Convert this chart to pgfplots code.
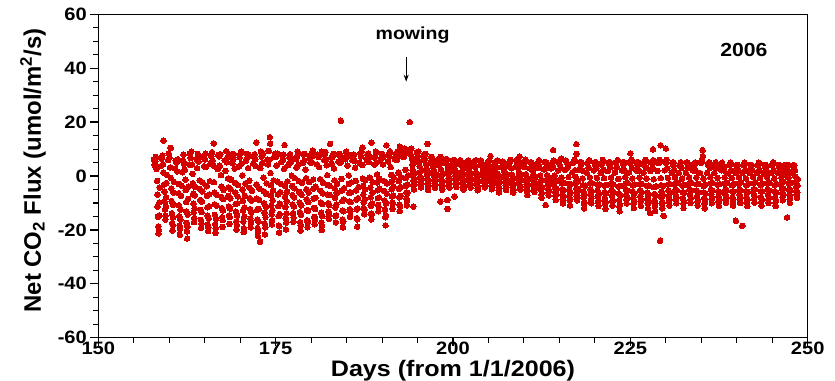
\documentclass[border=0pt]{standalone}
\usepackage{pgfplots}
\pgfplotsset{compat=1.18}
\usetikzlibrary{arrows.meta}
\usepackage{fontspec}
\setmainfont{Liberation Sans}[FakeStretch=1.12]
\newfontfamily\yfont{Liberation Sans}
\definecolor{fluxred}{RGB}{212,0,0}
\begin{document}
\begin{tikzpicture}
\begin{axis}[
  at={(0,0)}, anchor=south west,
  scale only axis, width=709.4bp, height=323.4bp,
  xmin=150, xmax=250, ymin=-60, ymax=60,
  xtick={150,175,200,225,250}, minor x tick num=4,
  ytick={-60,-40,-20,0,20,40,60}, minor y tick num=3,
  tick align=outside, tick pos=left,
  axis line style={line width=1.5bp, black},
  major tick style={line width=1.3bp, black},
  minor tick style={line width=1.1bp, black},
  major tick length=8bp, minor tick length=5bp,
  /pgf/number format/assume math mode=true,
  tick label style={font=\fontsize{18}{18}\selectfont\bfseries},
  xticklabel style={yshift=7bp},
  xlabel={Days (from 1/1/2006)},
  xlabel style={at={(axis description cs:0.5,0)}, anchor=base, yshift=-39bp, font=\fontsize{22.5}{22.5}\selectfont\bfseries},
  ylabel={Net CO\textsubscript{2} Flux (umol/m\textsuperscript{2}/s)},
  ylabel style={at={(axis description cs:-0.0921,0.517)}, anchor=center, font=\fontsize{24}{24}\selectfont\yfont\bfseries},
]
\addplot[only marks, mark=*, mark size=2.8bp, color=fluxred, mark options={fill=fluxred, draw=fluxred, line width=0pt}] coordinates {
(157.84,6.2)(157.92,4.1)
(158.03,5.3)(158.12,7.1)(158.21,2.6)(158.29,-1.8)(158.33,-6.9)(158.37,-11.4)(158.41,-15.2)(158.45,-18.7)(158.49,-21.3)(158.53,-20.1)(158.57,-14.6)(158.61,-9.8)(158.66,-4.3)(158.83,3.7)(158.92,6.4)
(159.03,7.6)(159.12,4.4)(159.18,13.1)(159.21,1.2)(159.29,-3.1)(159.33,-5.8)(159.37,-9.6)(159.41,-12.4)(159.45,-16.2)(159.49,-14.7)(159.53,-11.3)(159.57,-7.9)(159.61,-2.6)(159.66,0.4)(159.83,5.9)(159.92,8.3)
(160.03,6.8)(160.12,3.2)(160.20,10.4)(160.23,-0.7)(160.29,-4.6)(160.33,-9.3)(160.37,-13.8)(160.41,-17.5)(160.45,-20.2)(160.49,-18.1)(160.53,-15.4)(160.57,-10.7)(160.61,-6.1)(160.66,-2.2)(160.83,2.8)(160.92,5.6)
(161.03,4.9)(161.12,1.7)(161.21,6.2)(161.29,-2.9)(161.33,-6.4)(161.37,-10.8)(161.41,-14.9)(161.45,-18.3)(161.49,-21.8)(161.53,-19.6)(161.57,-16.2)(161.61,-12.5)(161.66,-7.4)(161.72,-3.6)(161.83,1.4)(161.92,5.8)
(162.03,7.9)(162.12,4.5)(162.21,2.3)(162.29,-1.4)(162.33,-5.2)(162.37,-9.7)(162.41,-13.1)(162.45,-17.4)(162.49,-20.6)(162.53,-23.2)(162.57,-18.8)(162.61,-14.3)(162.66,-8.5)(162.72,-3.9)(162.83,4.2)(162.92,8.4)
(163.03,6.7)(163.12,9.1)(163.21,4.3)(163.29,0.8)(163.33,-2.7)(163.37,-6.6)(163.41,-10.2)(163.45,-13.5)(163.49,-17.1)(163.53,-15.6)(163.57,-11.9)(163.61,-7.2)(163.66,-4.1)(163.83,6.3)(163.92,2.9)
(164.03,8.2)(164.12,5.4)(164.21,6.9)(164.29,-1.6)(164.33,-4.8)(164.37,-8.9)(164.41,-12.6)(164.45,-16.3)(164.49,-19.2)(164.53,-17.7)(164.57,-13.4)(164.61,-9.5)(164.66,-5.7)(164.72,-2.4)(164.83,7.2)(164.92,3.6)
(165.03,6.1)(165.12,8.3)(165.21,3.4)(165.29,-3.8)(165.33,-7.3)(165.37,-11.6)(165.41,-14.7)(165.45,-18.1)(165.49,-20.4)(165.53,-19.0)(165.57,-15.8)(165.61,-11.2)(165.66,-6.8)(165.72,-1.9)(165.83,4.8)(165.92,7.4)
(166.03,8.8)(166.12,5.7)(166.21,3.9)(166.28,12.1)(166.31,-2.3)(166.35,-6.2)(166.39,-10.5)(166.43,-14.4)(166.47,-17.9)(166.51,-21.1)(166.55,-19.3)(166.59,-15.9)(166.63,-11.0)(166.68,-6.9)(166.83,2.6)(166.92,7.8)
(167.03,7.3)(167.12,3.8)(167.21,8.1)(167.29,0.3)(167.33,-3.9)(167.37,-7.8)(167.41,-11.9)(167.45,-15.3)(167.49,-18.9)(167.53,-16.4)(167.57,-12.7)(167.61,-8.6)(167.66,-5.2)(167.83,5.8)(167.92,1.9)
(168.03,9.2)(168.12,5.1)(168.21,7.0)(168.29,-0.9)(168.33,-4.2)(168.37,-7.4)(168.41,-11.3)(168.45,-14.6)(168.49,-17.8)(168.53,-15.2)(168.57,-12.1)(168.61,-8.3)(168.66,-4.9)(168.72,-1.4)(168.83,8.1)(168.92,4.7)
(169.03,6.3)(169.12,8.1)(169.21,2.8)(169.29,-2.6)(169.33,-6.1)(169.37,-10.4)(169.41,-13.2)(169.45,-16.8)(169.49,-19.9)(169.53,-18.3)(169.57,-14.7)(169.61,-10.1)(169.66,-7.6)(169.72,-3.4)(169.83,3.6)(169.92,6.9)
(170.03,8.4)(170.12,9.0)(170.21,4.6)(170.29,0.2)(170.33,-5.1)(170.37,-9.2)(170.41,-12.8)(170.45,-16.9)(170.49,-20.8)(170.53,-19.4)(170.57,-15.1)(170.61,-11.7)(170.66,-7.3)(170.72,-2.8)(170.83,5.7)(170.92,8.2)
(171.03,6.9)(171.12,2.9)(171.21,7.9)(171.29,-1.7)(171.33,-4.4)(171.37,-8.2)(171.41,-12.3)(171.45,-15.7)(171.49,-19.1)(171.53,-17.2)(171.57,-13.6)(171.61,-9.1)(171.66,-5.5)(171.83,4.6)(171.92,7.1)
(172.03,8.1)(172.12,6.3)(172.21,3.7)(172.26,12.4)(172.29,-3.2)(172.33,-8.4)(172.37,-12.6)(172.41,-16.1)(172.45,-19.3)(172.49,-22.2)(172.53,-20.7)(172.57,-16.9)(172.61,-12.2)(172.66,-8.9)(172.72,-4.7)(172.80,-24.4)(172.83,2.9)(172.92,9.1)
(173.03,7.2)(173.12,4.8)(173.21,8.2)(173.29,-0.6)(173.33,-5.7)(173.37,-10.1)(173.41,-13.7)(173.45,-17.6)(173.49,-21.7)(173.53,-19.1)(173.57,-15.3)(173.61,-11.4)(173.66,-6.6)(173.72,-2.7)(173.83,6.1)(173.92,4.3)
(174.03,9.3)(174.12,6.0)(174.18,14.4)(174.22,12.0)(174.26,1.1)(174.30,-3.4)(174.34,-7.2)(174.38,-10.9)(174.42,-14.2)(174.46,-18.0)(174.50,-16.5)(174.54,-12.8)(174.58,-9.0)(174.63,-5.4)(174.70,-1.6)(174.83,7.4)(174.92,8.3)
(175.03,7.0)(175.12,3.9)(175.21,8.3)(175.29,-2.1)(175.33,-6.8)(175.37,-11.2)(175.41,-14.9)(175.45,-18.4)(175.49,-21.0)(175.53,-18.6)(175.57,-14.1)(175.61,-10.3)(175.66,-6.0)(175.72,-2.9)(175.83,5.2)(175.92,7.8)
(176.03,6.2)(176.12,8.0)(176.21,2.7)(176.26,11.5)(176.29,-3.6)(176.33,-7.7)(176.37,-11.5)(176.41,-15.6)(176.45,-19.8)(176.49,-17.3)(176.53,-13.9)(176.57,-9.4)(176.61,-5.8)(176.66,-2.0)(176.83,4.1)(176.92,6.8)
(177.03,8.1)(177.12,5.2)(177.21,6.6)(177.29,0.1)(177.33,-3.7)(177.37,-7.1)(177.41,-10.6)(177.45,-13.8)(177.49,-17.0)(177.53,-15.4)(177.57,-11.3)(177.61,-7.9)(177.66,-4.6)(177.72,-0.8)(177.83,6.4)(177.92,3.1)
(178.03,7.4)(178.12,9.0)(178.21,4.2)(178.29,-1.9)(178.33,-5.9)(178.37,-9.8)(178.41,-13.4)(178.45,-17.1)(178.49,-20.3)(178.53,-18.2)(178.57,-14.4)(178.61,-10.9)(178.66,-7.0)(178.72,-2.5)(178.83,4.9)(178.92,8.0)
(179.03,5.8)(179.12,8.2)(179.21,2.4)(179.29,-0.8)(179.33,-4.9)(179.37,-8.6)(179.41,-12.7)(179.45,-16.4)(179.49,-19.0)(179.53,-17.1)(179.57,-12.9)(179.61,-9.7)(179.66,-6.2)(179.72,-2.3)(179.83,6.9)(179.92,4.9)
(180.03,8.3)(180.12,5.0)(180.21,7.3)(180.26,9.4)(180.29,-1.3)(180.33,-4.7)(180.37,-8.4)(180.41,-11.8)(180.45,-15.2)(180.49,-17.9)(180.53,-16.1)(180.57,-12.3)(180.61,-8.1)(180.66,-4.0)(180.83,4.3)(180.92,7.9)
(181.03,7.1)(181.12,3.3)(181.21,8.0)(181.29,-1.2)(181.33,-5.5)(181.37,-9.9)(181.41,-13.6)(181.45,-17.2)(181.49,-20.1)(181.51,9.0)(181.53,-18.4)(181.57,-14.9)(181.61,-10.4)(181.66,-6.4)(181.72,-2.6)(181.83,5.9)(181.92,8.1)
(182.03,8.9)(182.12,6.1)(182.21,4.0)(182.29,0.3)(182.33,-3.3)(182.37,-6.9)(182.41,-10.1)(182.45,-13.2)(182.49,-15.9)(182.53,-14.3)(182.57,-10.8)(182.61,-7.0)(182.66,-3.7)(182.68,11.9)(182.83,6.8)(182.92,4.6)
(183.03,7.1)(183.12,8.2)(183.21,2.8)(183.29,-1.6)(183.33,-4.6)(183.37,-8.1)(183.41,-11.7)(183.45,-14.8)(183.49,-17.2)(183.53,-14.6)(183.57,-10.5)(183.61,-6.3)(183.66,-2.9)(183.83,5.3)(183.92,7.9)
(184.03,8.2)(184.12,4.9)(184.19,20.5)(184.23,6.8)(184.29,-1.1)(184.33,-5.4)(184.37,-9.3)(184.41,-12.9)(184.45,-16.2)(184.49,-19.1)(184.53,-17.0)(184.57,-13.1)(184.61,-8.7)(184.66,-4.5)(184.83,6.2)(184.92,9.0)
(185.03,7.2)(185.12,3.8)(185.21,7.9)(185.29,0.2)(185.33,-2.9)(185.37,-6.2)(185.41,-9.4)(185.45,-12.3)(185.49,-15.1)(185.53,-13.2)(185.57,-9.7)(185.61,-6.1)(185.66,-2.4)(185.83,5.8)(185.92,7.3)
(186.03,8.0)(186.12,5.6)(186.21,3.1)(186.29,-1.8)(186.33,-5.3)(186.37,-8.8)(186.41,-12.4)(186.45,-15.6)(186.49,-18.8)(186.53,-16.1)(186.57,-12.0)(186.61,-8.2)(186.66,-4.1)(186.83,5.0)(186.92,8.4)
(187.03,7.3)(187.12,9.0)(187.21,4.1)(187.26,10.5)(187.29,-1.0)(187.33,-3.6)(187.37,-6.8)(187.41,-9.9)(187.45,-12.1)(187.49,-14.2)(187.53,-12.4)(187.57,-8.6)(187.61,-5.0)(187.66,-1.5)(187.83,6.2)(187.92,8.0)
(188.03,8.3)(188.12,5.2)(188.21,7.1)(188.29,-0.6)(188.33,-4.3)(188.37,-7.9)(188.41,-11.1)(188.45,-13.9)(188.49,-16.1)(188.52,12.4)(188.55,-14.2)(188.59,-10.3)(188.63,-6.2)(188.68,-2.3)(188.83,6.9)(188.92,4.2)
(189.03,7.2)(189.12,9.1)(189.21,5.0)(189.29,0.6)(189.33,-2.4)(189.37,-5.3)(189.41,-8.2)(189.45,-10.7)(189.49,-13.1)(189.53,-11.4)(189.57,-8.0)(189.61,-4.6)(189.66,-1.1)(189.83,6.3)(189.92,8.2)
(190.03,8.1)(190.12,4.3)(190.21,7.2)(190.29,-1.9)(190.33,-5.6)(190.37,-9.1)(190.41,-12.5)(190.45,-15.3)(190.49,-18.3)(190.53,-14.6)(190.57,-10.2)(190.62,11.4)(190.64,-6.5)(190.70,-2.8)(190.83,5.4)(190.92,8.0)
(191.03,7.1)(191.12,9.2)(191.21,3.3)(191.29,0.4)(191.33,-2.2)(191.37,-4.9)(191.41,-7.6)(191.45,-9.9)(191.49,-12.2)(191.53,-10.1)(191.57,-7.2)(191.61,-3.8)(191.66,-0.6)(191.83,6.1)(191.92,8.1)
(192.03,8.2)(192.12,6.0)(192.21,9.0)(192.29,1.2)(192.33,-1.9)(192.37,-4.8)(192.41,-7.9)(192.45,-10.6)(192.49,-13.0)(192.52,10.9)(192.55,-11.2)(192.59,-7.4)(192.63,-4.1)(192.68,-0.5)(192.83,7.2)(192.92,9.1)
(193.03,9.2)(193.12,7.1)(193.21,10.1)(193.29,2.3)(193.33,-0.8)(193.37,-3.6)(193.41,-6.1)(193.45,-8.4)(193.49,-10.9)(193.53,-9.2)(193.57,-6.3)(193.61,-3.1)(193.66,0.2)(193.83,8.3)(193.90,20.0)(193.92,9.8)
(194.03,8.1)(194.12,10.2)(194.21,6.4)(194.29,4.1)(194.33,2.2)(194.37,0.3)(194.40,-11.4)(194.41,-1.8)(194.45,-3.6)(194.49,-5.0)(194.53,-3.3)(194.57,-1.2)(194.62,1.1)(194.83,5.3)(194.92,8.9)
(195.03,7.4)(195.12,9.1)(195.21,5.2)(195.29,3.6)(195.33,1.4)(195.37,-0.4)(195.41,-2.1)(195.45,-3.3)(195.49,-4.2)(195.53,-2.8)(195.57,-0.9)(195.62,2.0)(195.83,6.1)(195.92,8.0)
(196.03,6.3)(196.12,8.2)(196.21,4.4)(196.29,2.7)(196.33,0.6)(196.37,-1.2)(196.40,11.9)(196.41,-2.9)(196.45,-4.1)(196.49,-5.2)(196.53,-3.7)(196.57,-1.6)(196.62,0.9)(196.83,4.9)(196.92,7.1)
(197.03,7.0)(197.12,5.3)(197.21,3.2)(197.29,2.1)(197.33,0.2)(197.37,-1.5)(197.41,-2.6)(197.45,-3.8)(197.49,-4.4)(197.53,-3.1)(197.57,-1.3)(197.62,0.7)(197.83,4.2)(197.92,6.3)
(198.03,6.1)(198.12,4.2)(198.20,-9.5)(198.21,7.1)(198.29,2.4)(198.33,0.1)(198.37,-1.6)(198.41,-3.2)(198.45,-4.3)(198.49,-5.1)(198.53,-3.6)(198.57,-1.9)(198.62,0.8)(198.83,4.8)(198.92,6.2)
(199.03,5.2)(199.12,6.3)(199.19,-8.9)(199.22,-12.2)(199.29,2.8)(199.33,0.9)(199.37,-0.8)(199.41,-2.3)(199.45,-3.4)(199.49,-4.3)(199.53,-2.9)(199.57,-1.1)(199.62,1.6)(199.83,3.9)(199.92,5.8)
(200.03,4.8)(200.12,3.3)(200.20,-7.7)(200.22,5.9)(200.29,2.2)(200.33,0.3)(200.37,-1.4)(200.41,-2.7)(200.45,-3.9)(200.49,-4.1)(200.53,-2.5)(200.57,-0.7)(200.62,1.3)(200.83,4.4)(200.92,5.3)
(201.03,5.9)(201.12,4.1)(201.21,5.2)(201.29,1.9)(201.33,0.1)(201.37,-1.7)(201.41,-3.1)(201.45,-4.4)(201.49,-5.0)(201.53,-3.4)(201.57,-1.5)(201.62,0.6)(201.83,3.2)(201.92,5.1)
(202.03,4.2)(202.12,5.8)(202.21,3.1)(202.29,1.5)(202.33,-0.2)(202.37,-1.6)(202.41,-2.4)(202.45,-3.5)(202.49,-4.3)(202.53,-3.0)(202.57,-1.2)(202.62,1.0)(202.83,4.3)(202.92,5.2)
(203.03,5.1)(203.12,3.2)(203.21,5.9)(203.29,1.1)(203.33,-0.9)(203.37,-2.2)(203.41,-3.3)(203.45,-4.5)(203.49,-5.3)(203.53,-4.1)(203.57,-2.0)(203.62,0.3)(203.83,4.1)(203.92,5.8)
(204.03,5.0)(204.12,3.9)(204.21,2.1)(204.29,1.3)(204.33,-0.4)(204.37,-1.7)(204.41,-2.5)(204.45,-3.6)(204.49,-4.2)(204.53,-2.6)(204.57,-0.8)(204.62,1.2)(204.83,3.1)(204.92,4.9)
(205.03,4.3)(205.12,5.9)(205.21,3.2)(205.28,7.4)(205.31,1.0)(205.35,-0.8)(205.39,-2.3)(205.43,-3.7)(205.47,-4.9)(205.51,-4.0)(205.55,-2.2)(205.59,-0.5)(205.64,1.4)(205.83,3.9)(205.92,5.1)
(206.03,5.2)(206.12,3.1)(206.21,5.8)(206.29,0.9)(206.33,-1.0)(206.37,-2.8)(206.41,-4.1)(206.45,-5.3)(206.49,-6.1)(206.53,-4.6)(206.57,-2.4)(206.62,-0.3)(206.83,3.2)(206.92,5.3)
(207.03,4.1)(207.12,5.2)(207.21,2.3)(207.29,1.4)(207.33,-0.6)(207.37,-2.1)(207.41,-3.4)(207.45,-4.6)(207.49,-5.2)(207.53,-3.5)(207.57,-1.8)(207.62,0.4)(207.83,3.8)(207.92,5.1)
(208.03,5.3)(208.12,6.0)(208.21,2.9)(208.29,0.6)(208.33,-1.3)(208.37,-2.9)(208.41,-4.2)(208.45,-5.5)(208.49,-6.2)(208.53,-5.1)(208.57,-3.0)(208.62,-0.8)(208.83,3.3)(208.92,5.9)
(209.03,4.2)(209.12,5.9)(209.21,3.0)(209.29,1.1)(209.33,-0.7)(209.37,-2.0)(209.40,7.2)(209.41,-3.3)(209.45,-4.4)(209.49,-5.1)(209.53,-3.9)(209.57,-1.7)(209.62,0.5)(209.83,4.2)(209.92,5.2)
(210.03,5.0)(210.12,3.3)(210.21,6.1)(210.29,0.7)(210.33,-1.2)(210.37,-3.0)(210.41,-4.5)(210.45,-5.9)(210.49,-7.1)(210.53,-5.4)(210.57,-3.3)(210.62,-1.1)(210.83,2.9)(210.92,5.0)
(211.03,5.1)(211.12,3.9)(211.21,2.0)(211.29,0.4)(211.33,-1.4)(211.37,-2.9)(211.41,-4.2)(211.45,-5.3)(211.49,-6.0)(211.53,-4.4)(211.57,-2.6)(211.62,-0.4)(211.83,3.2)(211.92,4.8)
(212.03,4.1)(212.12,5.9)(212.21,3.1)(212.29,0.2)(212.33,-1.9)(212.37,-3.7)(212.41,-5.2)(212.45,-6.8)(212.49,-8.1)(212.53,-6.3)(212.57,-4.1)(212.62,-1.6)(212.83,2.4)(212.92,5.2)
(213.03,5.0)(213.06,-10.8)(213.12,3.1)(213.21,4.9)(213.29,0.3)(213.33,-1.6)(213.37,-3.3)(213.41,-4.8)(213.45,-6.1)(213.49,-7.2)(213.53,-5.5)(213.57,-3.2)(213.62,-1.0)(213.83,2.8)(213.92,4.4)
(214.03,4.9)(214.10,9.6)(214.12,3.2)(214.21,5.8)(214.29,0.1)(214.33,-2.2)(214.37,-4.1)(214.41,-5.8)(214.45,-7.4)(214.49,-8.9)(214.53,-7.0)(214.57,-4.6)(214.62,-1.9)(214.83,2.1)(214.92,5.2)
(215.03,4.3)(215.12,6.1)(215.21,2.9)(215.28,6.5)(215.31,-0.6)(215.35,-2.8)(215.39,-4.9)(215.43,-6.9)(215.47,-8.6)(215.51,-10.1)(215.55,-8.0)(215.59,-5.4)(215.64,-2.5)(215.83,2.3)(215.92,5.8)
(216.03,5.0)(216.12,3.1)(216.21,4.2)(216.29,-0.4)(216.33,-2.9)(216.37,-5.1)(216.41,-7.2)(216.45,-9.1)(216.49,-10.9)(216.53,-8.8)(216.57,-6.1)(216.62,-3.0)(216.83,1.4)(216.92,4.9)
(217.03,5.2)(217.12,6.0)(217.21,2.2)(217.29,-0.3)(217.33,-2.5)(217.37,-4.6)(217.40,11.8)(217.41,-6.2)(217.43,8.2)(217.45,-7.7)(217.49,-9.0)(217.53,-7.1)(217.57,-4.8)(217.62,-2.0)(217.83,2.4)(217.92,5.1)
(218.03,4.1)(218.12,5.1)(218.21,2.0)(218.29,-0.9)(218.33,-3.4)(218.37,-5.8)(218.41,-8.1)(218.45,-10.2)(218.49,-12.0)(218.53,-9.9)(218.57,-6.9)(218.62,-3.6)(218.83,1.2)(218.92,4.8)
(219.03,5.2)(219.12,3.0)(219.21,5.9)(219.29,-0.5)(219.33,-2.7)(219.37,-4.9)(219.41,-6.8)(219.45,-8.6)(219.49,-10.1)(219.53,-8.2)(219.57,-5.6)(219.62,-2.7)(219.83,2.1)(219.92,5.0)
(220.03,4.0)(220.12,5.2)(220.21,2.9)(220.29,-0.7)(220.33,-3.1)(220.37,-5.4)(220.41,-7.6)(220.45,-9.5)(220.49,-11.1)(220.53,-9.2)(220.57,-6.4)(220.62,-3.2)(220.83,1.1)(220.92,4.2)
(221.03,5.1)(221.12,6.0)(221.21,2.3)(221.29,-0.8)(221.33,-3.6)(221.37,-6.0)(221.41,-8.3)(221.45,-10.4)(221.49,-12.2)(221.53,-9.6)(221.57,-6.5)(221.62,-3.3)(221.83,1.8)(221.92,5.0)
(222.03,4.2)(222.12,5.1)(222.21,3.2)(222.29,-0.6)(222.33,-2.9)(222.37,-5.2)(222.41,-7.4)(222.45,-9.3)(222.49,-11.0)(222.53,-9.1)(222.57,-6.2)(222.62,-3.1)(222.83,1.3)(222.92,4.9)
(223.03,5.0)(223.12,3.2)(223.21,5.9)(223.29,-1.1)(223.33,-3.9)(223.37,-6.4)(223.41,-8.9)(223.45,-11.2)(223.49,-13.1)(223.53,-10.4)(223.57,-7.1)(223.62,-3.7)(223.83,2.0)(223.92,5.1)
(224.03,4.1)(224.12,5.0)(224.21,2.1)(224.29,-0.4)(224.33,-2.8)(224.37,-5.0)(224.41,-6.9)(224.45,-8.7)(224.49,-10.2)(224.53,-8.1)(224.57,-5.5)(224.62,-2.6)(224.83,1.3)(224.92,4.9)
(225.01,8.4)(225.05,5.1)(225.12,6.1)(225.21,3.0)(225.29,-0.9)(225.33,-3.5)(225.37,-5.9)(225.41,-8.1)(225.45,-10.2)(225.49,-11.9)(225.53,-9.3)(225.57,-6.4)(225.62,-3.2)(225.83,2.1)(225.92,5.0)
(226.03,4.0)(226.12,5.1)(226.21,2.0)(226.29,-0.6)(226.33,-3.0)(226.37,-5.3)(226.41,-7.5)(226.45,-9.4)(226.49,-11.1)(226.53,-8.9)(226.57,-6.0)(226.62,-2.9)(226.83,1.2)(226.92,4.1)
(227.03,5.2)(227.12,6.0)(227.21,3.1)(227.29,-1.0)(227.33,-3.7)(227.37,-6.1)(227.41,-8.4)(227.45,-10.3)(227.49,-12.1)(227.53,-10.0)(227.57,-7.0)(227.62,-3.6)(227.80,-13.8)(227.83,1.9)(227.92,5.1)
(228.03,4.9)(228.12,3.0)(228.19,9.9)(228.22,5.9)(228.29,-1.2)(228.33,-4.1)(228.37,-6.7)(228.41,-9.2)(228.45,-11.3)(228.49,-13.0)(228.53,-10.2)(228.57,-7.1)(228.62,-3.8)(228.83,1.9)(228.92,4.8)
(229.03,5.1)(229.12,6.0)(229.20,-24.0)(229.26,11.4)(229.29,-0.8)(229.33,-3.4)(229.37,-5.8)(229.41,-8.1)(229.45,-10.2)(229.49,-12.0)(229.53,-9.8)(229.57,-6.9)(229.62,-3.7)(229.70,-14.8)(229.83,2.1)(229.92,5.2)
(230.00,10.2)(230.05,4.9)(230.12,6.0)(230.21,2.9)(230.29,-0.7)(230.33,-3.1)(230.37,-5.4)(230.41,-7.5)(230.45,-9.4)(230.49,-11.0)(230.53,-8.9)(230.57,-6.1)(230.62,-3.0)(230.83,1.3)(230.92,4.9)
(231.03,4.1)(231.12,5.0)(231.21,2.2)(231.29,-0.5)(231.33,-2.9)(231.37,-5.0)(231.41,-7.0)(231.45,-8.7)(231.49,-10.1)(231.53,-8.0)(231.57,-5.4)(231.62,-2.5)(231.83,1.1)(231.92,4.0)
(232.03,4.0)(232.12,5.1)(232.21,3.1)(232.29,-1.0)(232.33,-3.6)(232.37,-6.0)(232.41,-8.2)(232.45,-10.2)(232.49,-11.9)(232.53,-9.2)(232.57,-6.3)(232.62,-3.3)(232.83,1.2)(232.92,4.9)
(233.03,5.0)(233.12,3.1)(233.21,4.1)(233.29,-0.6)(233.33,-2.9)(233.37,-5.1)(233.41,-7.0)(233.45,-8.7)(233.49,-10.0)(233.53,-8.1)(233.57,-5.5)(233.62,-2.6)(233.83,2.0)(233.92,4.1)
(234.03,4.1)(234.12,5.0)(234.21,2.0)(234.29,-0.6)(234.33,-3.1)(234.37,-5.4)(234.41,-7.6)(234.45,-9.5)(234.49,-11.0)(234.53,-8.9)(234.57,-6.0)(234.62,-2.9)(234.83,1.1)(234.92,4.9)
(235.03,5.0)(235.12,6.1)(235.18,9.6)(235.22,7.4)(235.29,-1.0)(235.33,-3.7)(235.37,-6.1)(235.41,-8.3)(235.45,-10.3)(235.49,-12.0)(235.53,-9.3)(235.57,-6.4)(235.62,-3.2)(235.83,1.2)(235.92,4.1)
(236.03,4.0)(236.12,5.1)(236.21,3.0)(236.29,-0.5)(236.33,-2.8)(236.37,-5.0)(236.41,-6.9)(236.45,-8.6)(236.49,-10.1)(236.53,-8.2)(236.57,-5.5)(236.62,-2.6)(236.83,1.1)(236.92,4.0)
(237.03,5.1)(237.12,3.0)(237.21,4.2)(237.29,-0.7)(237.33,-3.2)(237.37,-5.6)(237.41,-7.7)(237.45,-9.6)(237.49,-11.1)(237.53,-8.9)(237.57,-6.1)(237.62,-3.0)(237.83,2.1)(237.92,4.9)
(238.03,4.0)(238.12,3.1)(238.21,2.0)(238.29,-0.5)(238.33,-2.9)(238.37,-5.1)(238.41,-7.0)(238.45,-8.7)(238.49,-10.0)(238.53,-8.1)(238.57,-5.4)(238.62,-2.5)(238.83,1.0)(238.92,4.1)
(239.03,4.1)(239.12,5.0)(239.21,2.1)(239.29,-0.8)(239.33,-3.4)(239.37,-5.8)(239.41,-7.9)(239.45,-9.7)(239.49,-11.0)(239.53,-8.6)(239.57,-5.8)(239.62,-2.9)(239.83,1.1)(239.88,-16.6)(239.92,4.0)
(240.03,3.1)(240.12,4.1)(240.21,2.0)(240.29,-0.5)(240.33,-2.9)(240.37,-5.1)(240.41,-7.0)(240.45,-8.6)(240.49,-10.0)(240.53,-8.0)(240.57,-5.3)(240.62,-2.4)(240.78,-18.5)(240.83,1.2)(240.92,4.0)
(241.03,4.0)(241.12,5.0)(241.21,2.1)(241.29,-0.9)(241.33,-3.5)(241.37,-5.9)(241.41,-8.0)(241.45,-9.8)(241.49,-11.2)(241.53,-8.8)(241.57,-5.9)(241.62,-2.9)(241.83,1.1)(241.92,4.1)
(242.03,3.1)(242.12,4.0)(242.21,2.1)(242.29,-0.4)(242.33,-2.7)(242.37,-4.9)(242.41,-6.8)(242.45,-8.5)(242.49,-9.9)(242.53,-7.6)(242.57,-5.0)(242.62,-2.3)(242.83,1.2)(242.92,4.0)
(243.03,4.1)(243.12,5.0)(243.21,2.0)(243.29,-0.7)(243.33,-3.3)(243.37,-5.7)(243.41,-7.8)(243.45,-9.6)(243.49,-11.0)(243.53,-8.4)(243.57,-5.7)(243.62,-2.8)(243.83,1.0)(243.92,4.1)
(244.03,3.0)(244.12,4.1)(244.21,2.0)(244.29,-0.5)(244.33,-2.8)(244.37,-5.0)(244.41,-6.9)(244.45,-8.6)(244.49,-10.0)(244.53,-8.0)(244.57,-5.3)(244.62,-2.4)(244.83,1.1)(244.92,4.0)
(245.03,4.0)(245.12,5.1)(245.21,2.1)(245.29,-0.9)(245.33,-3.5)(245.37,-5.9)(245.41,-8.0)(245.45,-9.8)(245.49,-11.1)(245.53,-8.9)(245.57,-6.0)(245.62,-3.0)(245.83,1.2)(245.92,4.1)
(246.03,3.1)(246.12,4.0)(246.21,2.1)(246.29,-0.4)(246.33,-2.5)(246.37,-4.5)(246.41,-6.3)(246.45,-7.8)(246.49,-9.0)(246.53,-7.0)(246.57,-4.6)(246.62,-2.1)(246.83,1.0)(246.92,4.1)
(247.03,3.0)(247.10,-15.4)(247.12,4.1)(247.21,2.0)(247.29,-0.6)(247.33,-2.9)(247.37,-5.1)(247.41,-7.0)(247.45,-8.7)(247.49,-10.0)(247.53,-8.0)(247.57,-5.3)(247.62,-2.5)(247.83,1.1)(247.92,4.0)
(248.03,3.1)(248.12,4.0)(248.21,2.0)(248.29,-0.3)(248.33,-2.3)(248.37,-4.1)(248.41,-5.7)(248.45,-7.0)(248.49,-8.1)(248.53,-6.2)(248.58,-3.5)(248.62,-1.2)
};
\node[anchor=base, font=\fontsize{17.5}{17.5}\selectfont\bfseries] at (axis cs:194.3,50.5) {mowing};
\draw[line width=1.1bp, -{Stealth[length=7bp,width=5bp]}] (axis cs:193.4,44.3) -- (axis cs:193.4,35.0);
\node[font=\fontsize{19}{19}\selectfont\bfseries] at (axis cs:241.0,46.8) {2006};
\end{axis}
\pgfresetboundingbox
\path[use as bounding box] (-98.3bp,-43.3bp) rectangle (736.7bp,337.7bp);
\end{tikzpicture}
\end{document}
